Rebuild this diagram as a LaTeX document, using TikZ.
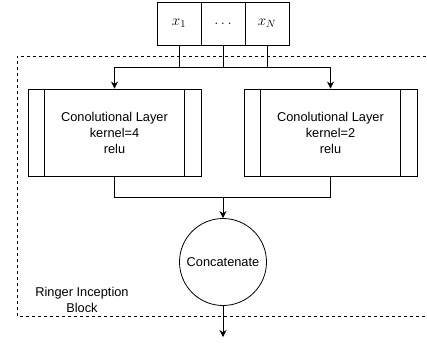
\documentclass[tikz,border=0pt]{standalone}
\usepackage{fix-cm}
\usepackage{fontspec}
\setmainfont{Liberation Sans}
\usetikzlibrary{arrows.meta}
\def\arr{\draw[-{Stealth[length=7pt,width=7pt]}]}
\def\sidebars#1{\draw ([xshift=17pt]#1.north west) -- ([xshift=17pt]#1.south west)
                      ([xshift=-17pt]#1.north east) -- ([xshift=-17pt]#1.south east);}
\tikzset{
  cell/.style={draw,minimum width=44pt,minimum height=43pt,inner sep=0pt,
               font=\fontsize{15}{18}\selectfont},
  layer/.style={draw,minimum width=173pt,minimum height=87pt,align=center},
  merge/.style={draw,circle,minimum size=87pt,inner sep=0pt}
}

\begin{document}
\begin{tikzpicture}[x=1pt,y=-1pt,line width=0.8pt,
                    font=\fontsize{12.8}{16}\selectfont]
                \useasboundingbox (0,0) rectangle (427,345);
                % input vector
                \node[cell] (x1)   at (179,23.5) {$x_1$};
                \node[cell] (dots) at (223,23.5) {$\dots$};
                \node[cell] (xN)   at (267,23.5) {$x_N$};
                % block frame, open on the right
                \draw[dashed] (432,56) -- (17,56) -- (17,316) -- (432,316);
                \node[align=center] (name) at (82,300) {Ringer Inception\\Block};
                % the two branches
                \node[layer] (conv4) at (114.5,132.5) {Conolutional Layer\\kernel=4\\relu};
                \node[layer] (conv2) at (330.5,132.5) {Conolutional Layer\\kernel=2\\relu};
                \sidebars{conv4}
                \sidebars{conv2}
                \node[merge] (concat) at (223,262) {Concatenate};
                \coordinate (split) at (223,67);
                \coordinate (join)  at (223,197);
                \coordinate (out)   at (223,337);
                % wiring
                \draw (x1.south) -- (x1.south |- split);
                \draw (dots.south) -- (split);
                \draw (xN.south) -- (xN.south |- split);
                \draw (conv4.north |- split) -- (conv2.north |- split);
                \arr (conv4.north |- split) -- (conv4.north);
                \arr (conv2.north |- split) -- (conv2.north);
                \draw (conv4.south) -- (conv4.south |- join) -- (conv2.south |- join) -- (conv2.south);
                \arr (join) -- (concat.north);
                \arr (concat.south) -- (out);
            \end{tikzpicture}
\end{document}
